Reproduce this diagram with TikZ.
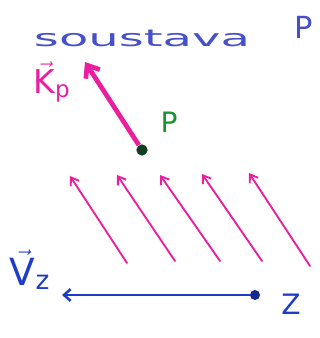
\documentclass[tikz,border=0pt]{standalone}
\usepackage{fontspec}
\setsansfont{DejaVu Sans}
\usetikzlibrary{arrows.meta}
\definecolor{inkblue}{RGB}{70,80,200}
\definecolor{penblue}{RGB}{30,60,200}
\definecolor{pink}{RGB}{235,30,160}
\definecolor{pgreen}{RGB}{20,150,50}
\definecolor{dotgreen}{RGB}{20,60,30}
\begin{document}
\begin{tikzpicture}[x=0.3mm, y=-0.3mm,
    lbl/.style={inner sep=0pt, font=\sffamily\fontsize{#1}{#1}\selectfont},
    field/.style={pink, line width=1.6pt, line cap=round,
      -{Straight Barb[length=2.2mm, width=3mm]}},
    dot/.style={circle, fill=#1, inner sep=0pt, minimum size=3.4mm}
  ]
  \useasboundingbox (0,0) rectangle (320,338);

  % heading
  \node[lbl=20, text=inkblue, transform shape, xscale=2.05] (title) at (142,38) {soustava};
  \node[lbl=26, text=inkblue] (sysP) at (304,27) {P};

  % point P and its vector
  \node[dot=dotgreen] (P) at (142,150) {};
  \node[lbl=24, text=pgreen] (lblP) at (169,122) {P};
  \coordinate (Ktip) at (85,62);
  \draw[pink, line width=4pt, -{Straight Barb[length=3.2mm, width=5mm]}] (P) -- (Ktip);
  \node[lbl=28, text=pink] (lblK) at (52,82) {$\vec{\mathsf{K}}_{\mathsf{p}}$};

  % field arrows
  \foreach \i/\xa/\ya/\xb/\yb in {1/127/263/70/176, 2/175/261/117/175,
      3/220/261/160/175, 4/262/261/202/174, 5/310/266/249/173} {
    \coordinate (f\i a) at (\xa,\ya);
    \coordinate (f\i b) at (\xb,\yb);
    \draw[field] (f\i a) -- (f\i b);
  }

  % point Z and its velocity
  \node[dot=penblue!70!black, minimum size=3mm] (Z) at (255,295) {};
  \node[lbl=24, text=penblue] (lblZ) at (291,304) {Z};
  \coordinate (Vtip) at (62,295);
  \draw[penblue, line width=2.2pt, -{Straight Barb[length=2mm, width=3.5mm]}] (Z) -- (Vtip);
  \node[lbl=32, text=penblue] (lblV) at (30,270) {$\vec{\mathsf{V}}_{\mathsf{z}}$};
\end{tikzpicture}
\end{document}
